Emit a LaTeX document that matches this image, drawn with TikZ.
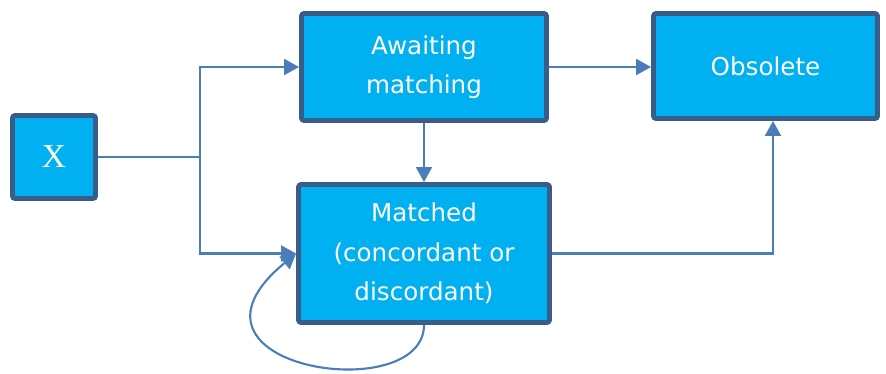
\documentclass[tikz,border=0pt]{standalone}
\usepackage{fontspec}
\setmainfont{DejaVu Sans}
\newfontfamily\xfont{Liberation Serif}
\usetikzlibrary{arrows.meta, positioning}
\definecolor{boxfill}{HTML}{00B0F0}
\definecolor{boxedge}{HTML}{385D8A}
\definecolor{linkblue}{HTML}{4A7EBB}

\begin{document}
\begin{tikzpicture}[x=0.02cm, y=-0.02cm,
    block/.style={rectangle, draw=boxedge, fill=boxfill, line width=2.8pt, rounded corners=1.5pt, text=white, align=center, inner sep=0pt, font=\fontsize{14}{22.5}\selectfont},
    arr/.style={-{Triangle[length=0.3cm, width=0.32cm]}, draw=linkblue, line width=1.2pt}
  ]
  \useasboundingbox (0,0) rectangle (886,373);

  % States
  \node[block, minimum width=1.66cm, minimum height=1.66cm, font=\xfont\fontsize{19}{22}\selectfont] (x) at (54,157) {X};
  \node[block, minimum width=4.9cm, minimum height=2.14cm] (await) at (424,67) {Awaiting\\matching};
  \node[block, minimum width=4.48cm, minimum height=2.1cm] (obs) at (765.5,66) {Obsolete};
  \node[block, minimum width=5.02cm, minimum height=2.76cm] (mat) at (424,253.5) {Matched\\(concordant or\\discordant)};

  % Transitions
  \coordinate (split) at (200,157);
  \draw[linkblue, line width=1.2pt] (x.east) -- (split);
  \draw[arr] (split) |- (await.west);
  \draw[arr] (split) |- (mat.west);
  \draw[arr] (await.south) -- (mat.north);
  \draw[arr] (await.east) -- (await.east -| obs.west);
  \draw[arr] (mat.east) -| ([xshift=0.15cm]obs.south);
  % self loop under Matched
  \draw[arr] (mat.south) .. controls (424,408) and (157,368) .. (mat.west);
\end{tikzpicture}
\end{document}
